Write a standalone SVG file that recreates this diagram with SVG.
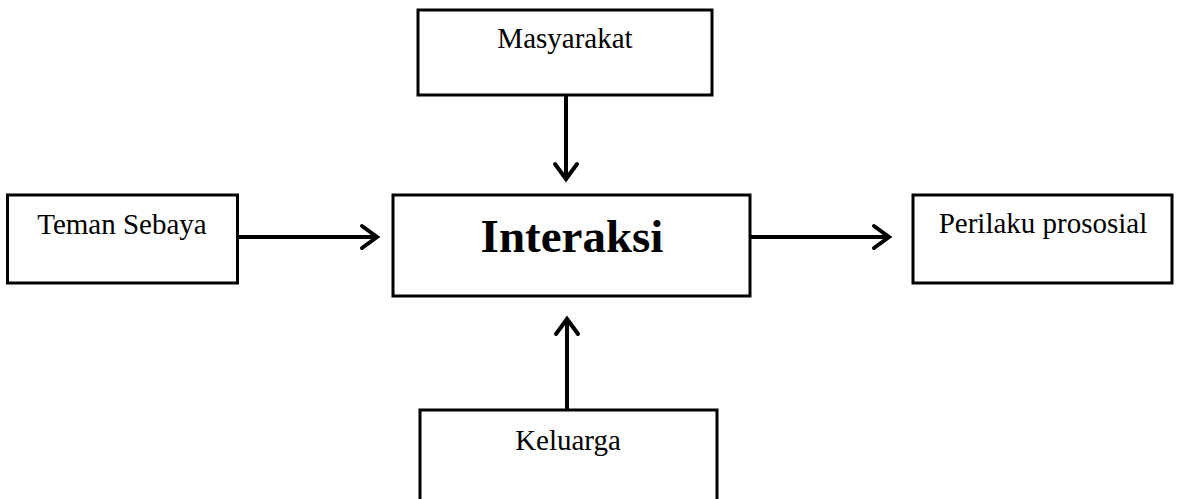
<svg xmlns="http://www.w3.org/2000/svg" width="1177" height="499" viewBox="0 0 1177 499">
<style>
.box{fill:#fff;stroke:#000;stroke-width:3}
.lbl{font-family:"Liberation Serif","Times New Roman",serif;font-size:29px;fill:#000;text-anchor:middle}
.big{font-family:"Liberation Serif","Times New Roman",serif;font-size:47px;font-weight:bold;fill:#000;text-anchor:middle}
.conn{fill:none;stroke:#000;stroke-width:4}
</style>
<defs>
<marker id="arr" markerUnits="userSpaceOnUse" markerWidth="30" markerHeight="30" viewBox="-20 -15 30 30" refX="0" refY="0" orient="auto">
<path d="M-15,-11 L0,0 L-15,11" fill="none" stroke="#000" stroke-width="4" stroke-linecap="round" stroke-linejoin="miter"/>
</marker>
</defs>
<rect width="1177" height="499" fill="#fff"/>
<g id="connectors">
<line class="conn" x1="566" y1="95" x2="566" y2="179" marker-end="url(#arr)"/>
<line class="conn" x1="238" y1="237" x2="377" y2="237" marker-end="url(#arr)"/>
<line class="conn" x1="750" y1="237" x2="889" y2="237" marker-end="url(#arr)"/>
<line class="conn" x1="567" y1="410" x2="567" y2="319" marker-end="url(#arr)"/>
</g>
<g id="masyarakat">
<rect class="box" x="418" y="10" width="294" height="85"/>
<text class="lbl" x="565" y="48">Masyarakat</text>
</g>
<g id="teman">
<rect class="box" x="7.5" y="195" width="230" height="88"/>
<text class="lbl" x="122" y="234">Teman Sebaya</text>
</g>
<g id="interaksi">
<rect class="box" x="393" y="195" width="357" height="101"/>
<text class="big" x="572" y="252">Interaksi</text>
</g>
<g id="perilaku">
<rect class="box" x="913" y="195" width="259" height="88"/>
<text class="lbl" x="1043" y="233">Perilaku prososial</text>
</g>
<g id="keluarga">
<rect class="box" x="420" y="410" width="297" height="100"/>
<text class="lbl" x="568" y="450">Keluarga</text>
</g>
</svg>
